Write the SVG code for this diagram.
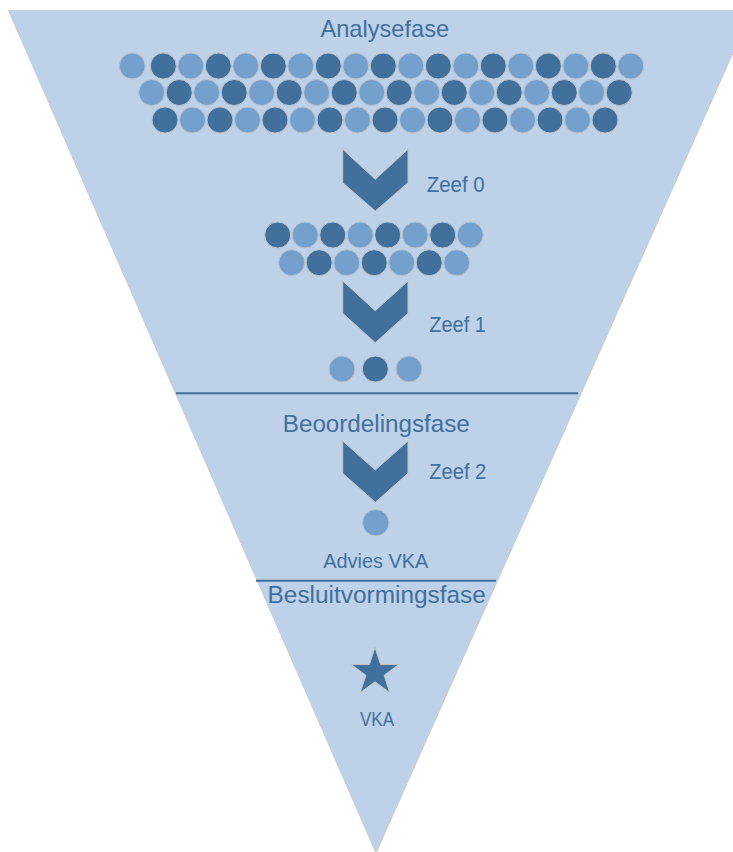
<svg xmlns="http://www.w3.org/2000/svg" width="733" height="852" viewBox="0 0 733 852">
<style>
.bg{fill:#fff}
.funnel{fill:#BDD1E9;stroke:#C9CDD2;stroke-width:1}
.l{fill:#74A0CE;stroke:#BFC3C8;stroke-width:1}
.d{fill:#41709C;stroke:#BFC3C8;stroke-width:1}
.chev{fill:#41709C;stroke:#C4C4C4;stroke-width:1}
.div{stroke:#41709C;stroke-width:2}
text{font-family:"Liberation Sans",Arial,sans-serif;fill:#41709C}
.h{font-size:23.6px;text-anchor:middle}
.z{font-size:21.5px}
.m{font-size:21px;text-anchor:middle}
</style>
<rect class="bg" x="0" y="0" width="733" height="852"/>
<g id="funnel"><polygon class="funnel" points="8.5,10.5 752,10.5 376,853"/></g>
<g id="dividers">
<line class="div" x1="176" y1="393.3" x2="578" y2="393.3"/>
<line class="div" x1="256" y1="580.8" x2="496" y2="580.8"/>
</g>
<g id="analysefase">
<text class="h" x="384.8" y="36.7">Analysefase</text>
<g id="row1">
<circle class="l" cx="132.3" cy="66" r="13"/>
<circle class="d" cx="163.3" cy="66" r="13"/>
<circle class="l" cx="190.8" cy="66" r="13"/>
<circle class="d" cx="218.3" cy="66" r="13"/>
<circle class="l" cx="245.8" cy="66" r="13"/>
<circle class="d" cx="273.3" cy="66" r="13"/>
<circle class="l" cx="300.8" cy="66" r="13"/>
<circle class="d" cx="328.3" cy="66" r="13"/>
<circle class="l" cx="355.8" cy="66" r="13"/>
<circle class="d" cx="383.3" cy="66" r="13"/>
<circle class="l" cx="410.8" cy="66" r="13"/>
<circle class="d" cx="438.3" cy="66" r="13"/>
<circle class="l" cx="465.8" cy="66" r="13"/>
<circle class="d" cx="493.3" cy="66" r="13"/>
<circle class="l" cx="520.8" cy="66" r="13"/>
<circle class="d" cx="548.3" cy="66" r="13"/>
<circle class="l" cx="575.8" cy="66" r="13"/>
<circle class="d" cx="603.3" cy="66" r="13"/>
<circle class="l" cx="630.8" cy="66" r="13"/>
</g>
<g id="row2">
<circle class="l" cx="151.7" cy="92.5" r="13"/>
<circle class="d" cx="179.2" cy="92.5" r="13"/>
<circle class="l" cx="206.7" cy="92.5" r="13"/>
<circle class="d" cx="234.2" cy="92.5" r="13"/>
<circle class="l" cx="261.7" cy="92.5" r="13"/>
<circle class="d" cx="289.2" cy="92.5" r="13"/>
<circle class="l" cx="316.7" cy="92.5" r="13"/>
<circle class="d" cx="344.2" cy="92.5" r="13"/>
<circle class="l" cx="371.7" cy="92.5" r="13"/>
<circle class="d" cx="399.2" cy="92.5" r="13"/>
<circle class="l" cx="426.7" cy="92.5" r="13"/>
<circle class="d" cx="454.2" cy="92.5" r="13"/>
<circle class="l" cx="481.7" cy="92.5" r="13"/>
<circle class="d" cx="509.2" cy="92.5" r="13"/>
<circle class="l" cx="536.7" cy="92.5" r="13"/>
<circle class="d" cx="564.2" cy="92.5" r="13"/>
<circle class="l" cx="591.7" cy="92.5" r="13"/>
<circle class="d" cx="619.2" cy="92.5" r="13"/>
</g>
<g id="row3">
<circle class="d" cx="165" cy="120" r="13"/>
<circle class="l" cx="192.5" cy="120" r="13"/>
<circle class="d" cx="220" cy="120" r="13"/>
<circle class="l" cx="247.5" cy="120" r="13"/>
<circle class="d" cx="275" cy="120" r="13"/>
<circle class="l" cx="302.5" cy="120" r="13"/>
<circle class="d" cx="330" cy="120" r="13"/>
<circle class="l" cx="357.5" cy="120" r="13"/>
<circle class="d" cx="385" cy="120" r="13"/>
<circle class="l" cx="412.5" cy="120" r="13"/>
<circle class="d" cx="440" cy="120" r="13"/>
<circle class="l" cx="467.5" cy="120" r="13"/>
<circle class="d" cx="495" cy="120" r="13"/>
<circle class="l" cx="522.5" cy="120" r="13"/>
<circle class="d" cx="550" cy="120" r="13"/>
<circle class="l" cx="577.5" cy="120" r="13"/>
<circle class="d" cx="605" cy="120" r="13"/>
</g>
</g>
<g id="zeef0">
<polygon class="chev" points="342.7,149.3 375.3,179.3 408,149.3 408,182.7 375.3,211 342.7,182.7"/>
<text class="z" x="426.7" y="191.7" textLength="58" lengthAdjust="spacingAndGlyphs">Zeef 0</text>
</g>
<g id="selection1">
<circle class="d" cx="277.7" cy="235" r="13"/>
<circle class="l" cx="305.2" cy="235" r="13"/>
<circle class="d" cx="332.7" cy="235" r="13"/>
<circle class="l" cx="360.2" cy="235" r="13"/>
<circle class="d" cx="387.7" cy="235" r="13"/>
<circle class="l" cx="415.2" cy="235" r="13"/>
<circle class="d" cx="442.7" cy="235" r="13"/>
<circle class="l" cx="470.2" cy="235" r="13"/>
<circle class="l" cx="291.7" cy="262.7" r="13"/>
<circle class="d" cx="319.2" cy="262.7" r="13"/>
<circle class="l" cx="346.7" cy="262.7" r="13"/>
<circle class="d" cx="374.2" cy="262.7" r="13"/>
<circle class="l" cx="401.7" cy="262.7" r="13"/>
<circle class="d" cx="429.2" cy="262.7" r="13"/>
<circle class="l" cx="456.7" cy="262.7" r="13"/>
</g>
<g id="zeef1">
<polygon class="chev" points="342.7,281 375.3,310.7 408,281 408,313.3 375.3,342.7 342.7,313.3"/>
<text class="z" x="429.3" y="331.7" textLength="56.5" lengthAdjust="spacingAndGlyphs">Zeef 1</text>
</g>
<g id="selection2">
<circle class="l" cx="342" cy="369" r="13"/>
<circle class="d" cx="375.3" cy="369" r="13"/>
<circle class="l" cx="409" cy="369" r="13"/>
</g>
<g id="beoordelingsfase">
<text class="h" x="376.3" y="431.7" style="font-size:24.2px">Beoordelingsfase</text>
</g>
<g id="zeef2">
<polygon class="chev" points="342.7,441 375.3,470 408,441 408,473.3 375.3,502.3 342.7,473.3"/>
<text class="z" x="429.3" y="479" textLength="57" lengthAdjust="spacingAndGlyphs">Zeef 2</text>
</g>
<g id="advies">
<circle class="l" cx="375.7" cy="522.7" r="13.2"/>
<text class="m" x="375.8" y="568.3" textLength="105" lengthAdjust="spacingAndGlyphs">Advies VKA</text>
</g>
<g id="besluitvormingsfase">
<text class="h" x="376.7" y="603.3" style="font-size:24.4px">Besluitvormingsfase</text>
</g>
<g id="vka">
<polygon class="chev" points="375,647.3 380.61,664.57 398.78,664.57 384.08,675.25 389.69,692.53 375,681.85 360.31,692.53 365.92,675.25 351.22,664.57 369.39,664.57"/>
<text class="m" x="377" y="726" style="font-size:20px" textLength="34" lengthAdjust="spacingAndGlyphs">VKA</text>
</g>
</svg>
